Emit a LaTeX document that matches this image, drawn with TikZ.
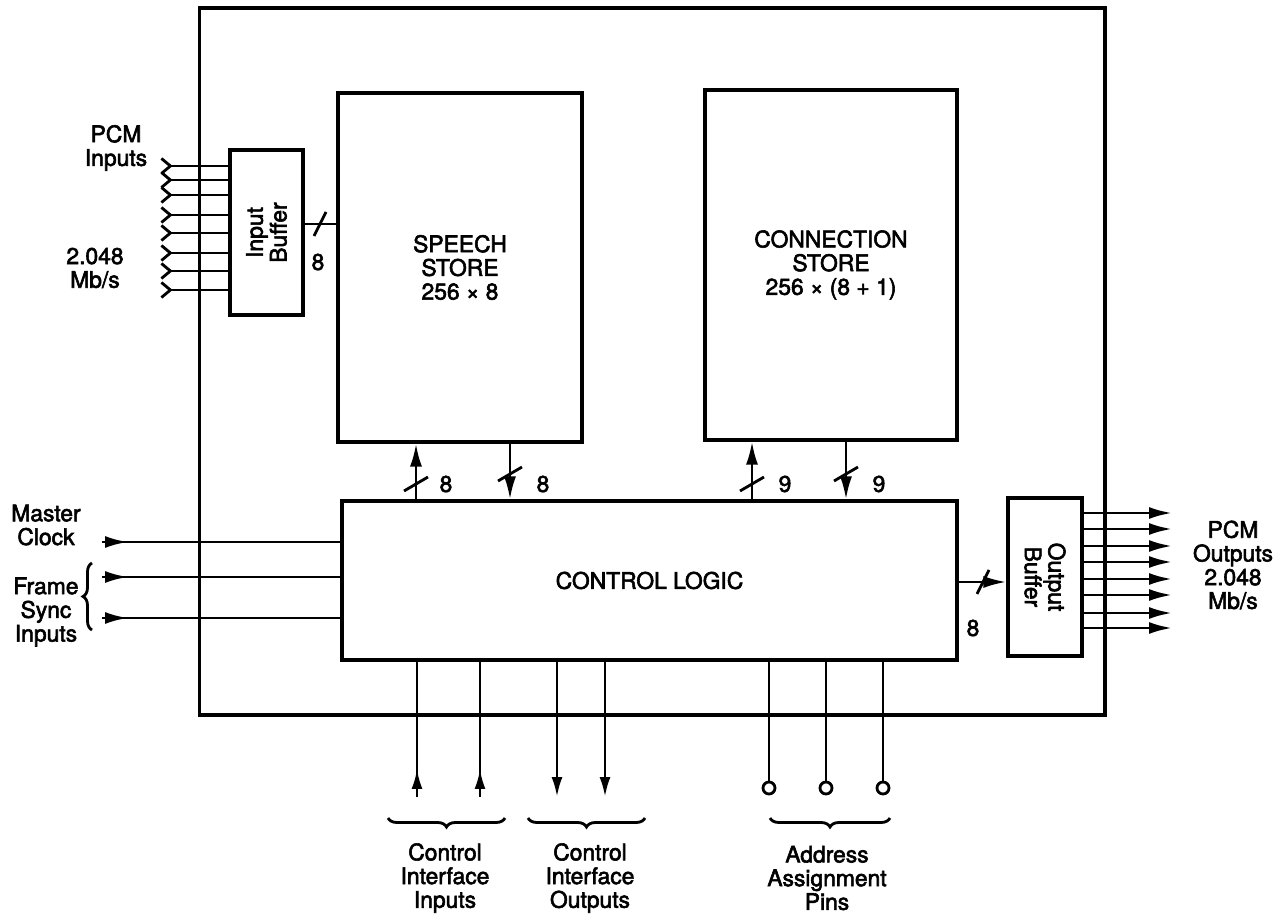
\documentclass[tikz,border=0pt]{standalone}
\usepackage{fontspec}
\setmainfont{TeX Gyre Heros}[FakeBold=2.5]
\usetikzlibrary{arrows.meta,decorations.pathreplacing}

\newcommand{\hbus}[1]{\draw (#1) ++(-6,12) -- ++(12,-24);}
\newcommand{\vbus}[1]{\draw (#1) ++(-12,7) -- ++(24,-14);}

\begin{document}
\begin{tikzpicture}[x=0.02cm,y=-0.02cm,line width=1.6pt,
  font=\fontsize{13}{13.5}\selectfont,
  box/.style={draw,line width=1.8pt,align=center,inner sep=0pt},
  lbl/.style={align=center,inner sep=0pt},
  arr/.style={-{Latex[length=0.46cm,width=0.24cm]}},
  arrs/.style={-{Latex[length=0.4cm,width=0.22cm]}},
  barb/.style={{Straight Barb[reversed,length=0.18cm,width=0.3cm]}-},
  addrpin/.style={circle,draw,fill=white,minimum size=0.24cm,inner sep=0pt},
  brc/.style={decorate,decoration={brace,amplitude=0.18cm}}]
\useasboundingbox (0,0) rectangle (1288,918);

\node[box,minimum width=18.12cm,minimum height=14.14cm] (chip) at (652,361.5) {};
\node[box,minimum width=1.46cm,minimum height=3.3cm] (inbuf) at (266.5,232.5) {};
\node[lbl,rotate=90] (inbuftxt) at (inbuf.center) {Input\\Buffer};
\node[box,minimum width=4.88cm,minimum height=6.98cm] (speech) at (460,267.5) {SPEECH\\STORE\\256 × 8};
\node[box,minimum width=5.04cm,minimum height=7cm] (conn) at (831,265) {CONNECTION\\STORE\\256 × (8 + 1)};
\node[box,minimum width=12.3cm,minimum height=3.18cm] (ctrl) at (649.5,580.5) {CONTROL LOGIC};
\node[box,minimum width=1.48cm,minimum height=3.16cm] (outbuf) at (1045,577) {};
\node[lbl,rotate=-90] (outbuftxt) at (outbuf.center) {Output\\Buffer};

\node[lbl] (pcmin) at (116,148) {PCM\\Inputs};
\node[lbl] (ratein) at (95,268) {2.048\\Mb/s};
\node[lbl] (pcmout) at (1233,565) {PCM\\Outputs\\2.048\\Mb/s};
\node[lbl] (mclk) at (46,525) {Master\\Clock};
\node[lbl] (fsync) at (46,612) {Frame\\Sync\\Inputs};

\foreach \y [count=\i] in {166,180,195,215,233,253,271,290} {
  \coordinate (in\i) at (160,\y);
  \draw[barb] (in\i) -- (in\i -| inbuf.west);
}
\draw (inbuf.east |- 0,224) -- (speech.west |- 0,224);
\hbus{320,224}
\node[lbl] (n1) at (318,262) {8};

\foreach \y [count=\i] in {513,529,546,562,579,595,613,628} {
  \coordinate (out\i) at (1172,\y);
  \draw[arr] (out\i -| outbuf.east) -- (out\i);
}
\draw[arr] (ctrl.east |- 0,582) -- (outbuf.west |- 0,582);
\hbus{983,582}
\node[lbl] (n2) at (973,628) {8};

\draw[arr] (ctrl.north -| 416,0) -- (speech.south -| 416,0);
\vbus{416,484}
\node[lbl] (n3) at (446,484) {8};
\draw[arr] (speech.south -| 510,0) -- (ctrl.north -| 510,0);
\vbus{510,474}
\node[lbl] (n4) at (543,484) {8};
\draw[arr] (ctrl.north -| 752,0) -- (conn.south -| 752,0);
\vbus{752,484}
\node[lbl] (n5) at (785,484) {9};
\draw[arr] (conn.south -| 846,0) -- (ctrl.north -| 846,0);
\vbus{846,474}
\node[lbl] (n6) at (879,484) {9};

\foreach \y [count=\i] in {542,577,618} {
  \coordinate (clk\i) at (102,\y);
  \draw (clk\i) -- (clk\i -| ctrl.west);
  \draw[arr] (clk\i) -- ++(26,0);
}
\draw[brc] (92,630) -- (92,563);

\foreach \x [count=\i] in {417,480} {
  \coordinate (cii\i) at (\x,797);
  \draw (cii\i) -- (cii\i |- ctrl.south);
  \draw[arrs] (cii\i) -- ++(0,-28);
}
\foreach \x [count=\i] in {557,605} {
  \coordinate (cio\i) at (\x,797);
  \draw[arrs] (cio\i |- ctrl.south) -- (cio\i);
}
\foreach \x [count=\i] in {769,826,883} {
  \node[addrpin] (ap\i) at (\x,788) {};
  \draw (ap\i) -- (ap\i |- ctrl.south);
}

\draw[brc] (505,818) -- (388,818);
\draw[brc] (645,818) -- (528,818);
\draw[brc] (890,818) -- (770,818);
\node[lbl] (ciin) at (445,878) {Control\\Interface\\Inputs};
\node[lbl] (ciout) at (590,878) {Control\\Interface\\Outputs};
\node[lbl] (addr) at (827,878) {Address\\Assignment\\Pins};
\end{tikzpicture}
\end{document}
